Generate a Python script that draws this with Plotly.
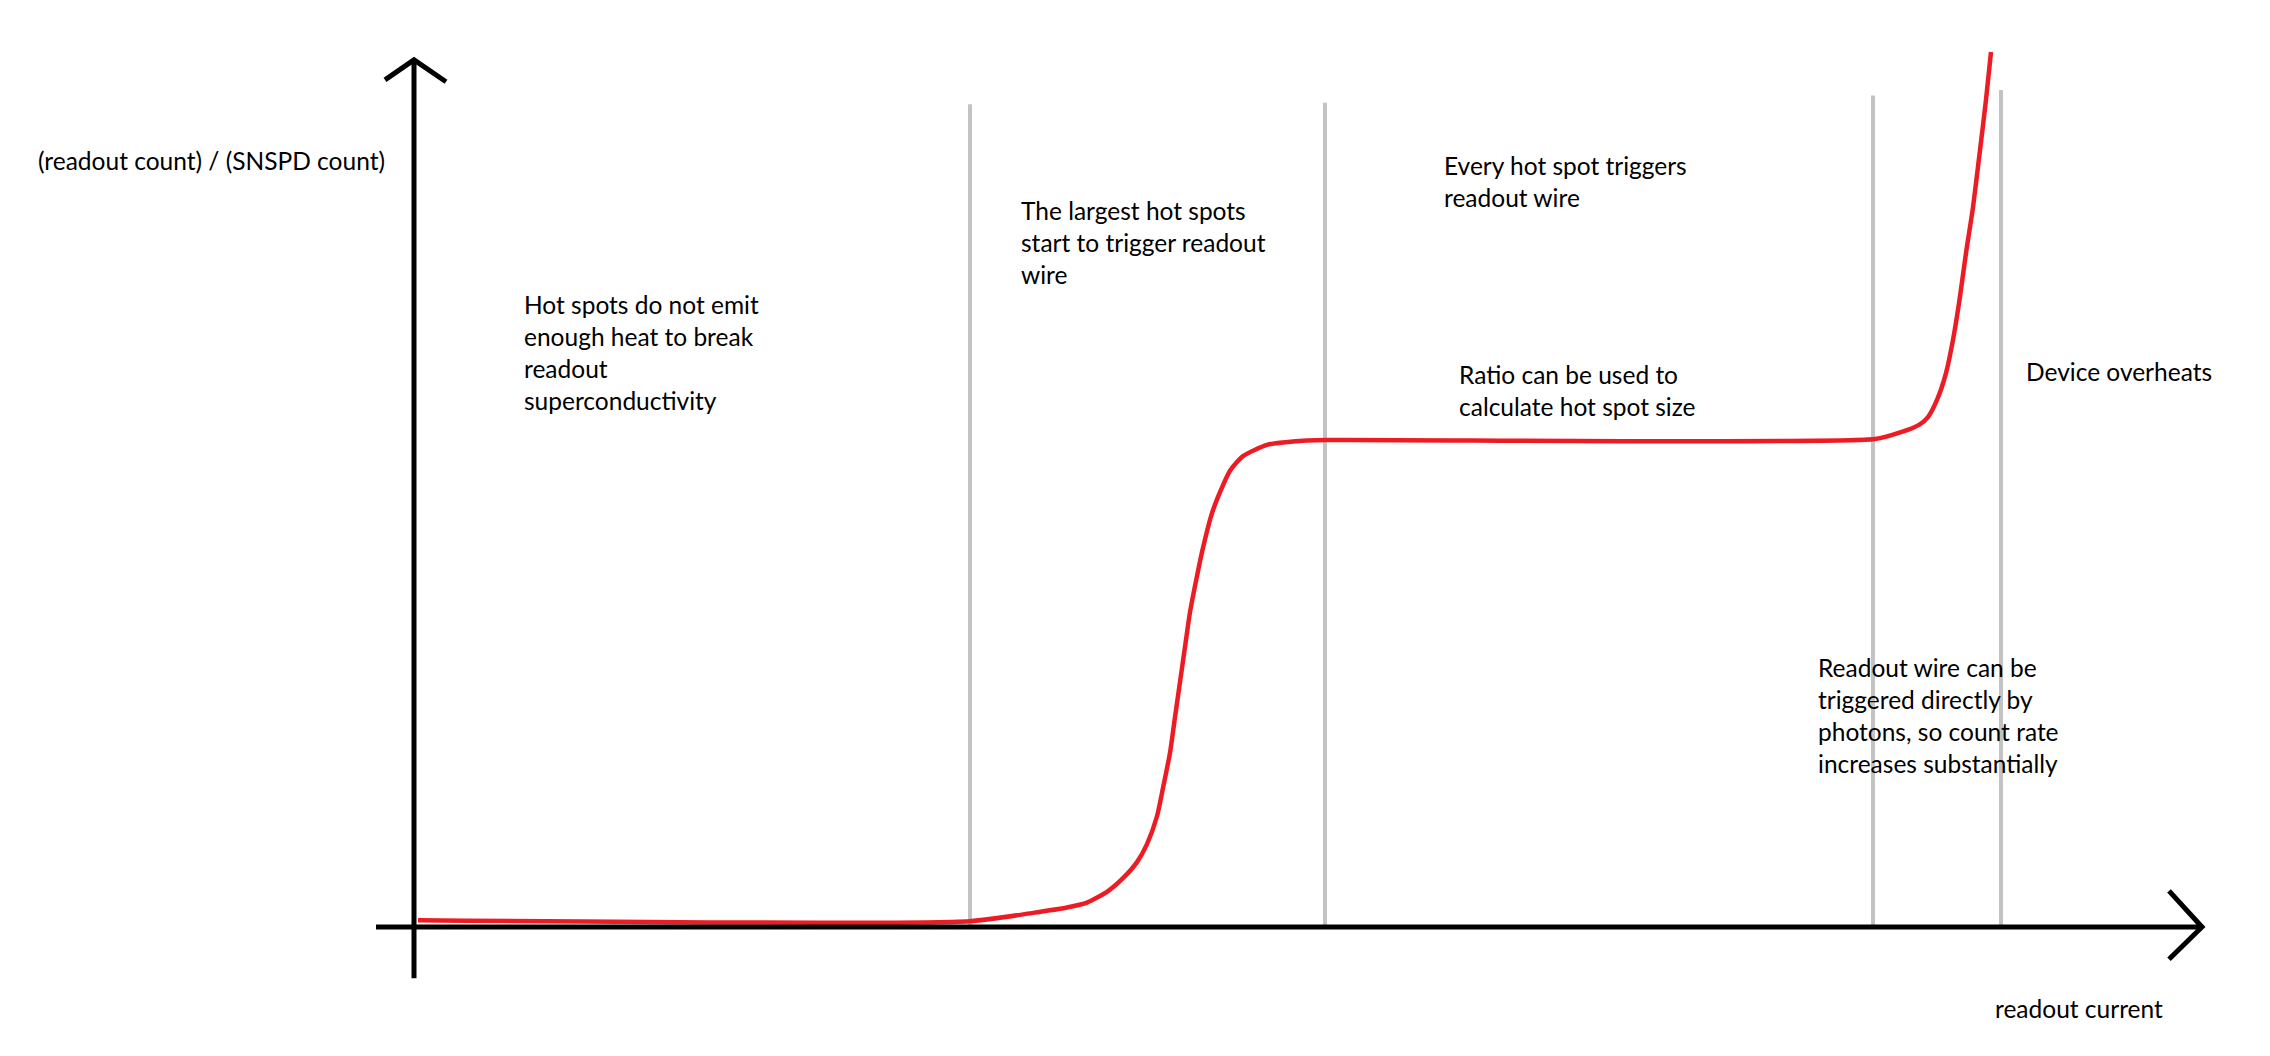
import plotly.graph_objects as go

# Readout current (arb. units, 0 at the vertical axis) and count ratio (plateau = 1)
current = [0.04, 5.56, 6.19, 6.53, 6.73, 6.93, 7.09, 7.23, 7.33, 7.43, 7.49, 7.56,
           7.61, 7.66, 7.71, 7.76, 7.83, 7.89, 7.98, 8.06, 8.16, 8.29, 8.53, 8.79,
           9.13, 14.61, 14.87, 15.05, 15.14, 15.23, 15.32, 15.39, 15.455, 15.52,
           15.59, 15.66, 15.72, 15.77]
ratio = [0.014, 0.012, 0.029, 0.040, 0.050, 0.072, 0.100, 0.133, 0.170, 0.227, 0.285,
         0.357, 0.430, 0.502, 0.574, 0.645, 0.719, 0.777, 0.848, 0.891, 0.935, 0.965,
         0.988, 0.995, 0.998, 1.000, 1.014, 1.029, 1.045, 1.080, 1.135, 1.203, 1.285,
         1.381, 1.475, 1.592, 1.695, 1.793]

# Regime boundaries (current) and top of each divider (ratio)
boundary_current = [5.56, 9.11, 14.59, 15.87]
boundary_top = [1.686, 1.689, 1.704, 1.715]

# Text labels
label_texts = [
    "(readout count) / (SNSPD count)",
    "Hot spots do not emit<br>enough heat to break<br>readout<br>superconductivity",
    "The largest hot spots<br>start to trigger readout<br>wire",
    "Every hot spot triggers<br>readout wire",
    "Ratio can be used to<br>calculate hot spot size",
    "Device overheats",
    "Readout wire can be<br>triggered directly by<br>photons, so count rate<br>increases substantially",
    "readout current",
]
label_x = [-3.78, 1.08, 6.05, 10.28, 10.43, 16.10, 14.02, 15.79]
label_y = [1.570, 1.178, 1.403, 1.528, 1.100, 1.139, 0.433, -0.166]

RED = "#ED1C24"
GRAY = "#C3C3C3"
BLACK = "#000000"
FONT = "Lato, 'Open Sans', sans-serif"

fig = go.Figure()

shapes = []
# gray regime dividers
for bx, bt in zip(boundary_current, boundary_top):
    shapes.append(dict(type="line", xref="x", yref="y", x0=bx, x1=bx, y0=0, y1=bt,
                       line=dict(color=GRAY, width=4), layer="below"))

# hand-drawn style axes with arrowheads
axis_line = dict(color=BLACK, width=5)
shapes += [
    dict(type="line", xref="x", yref="y", x0=0, x1=0, y0=-0.105, y1=1.777, line=axis_line),
    dict(type="path", xref="x", yref="y",
         path="M -0.29 1.736 L 0.0 1.777 L 0.32 1.732", line=axis_line),
    dict(type="line", xref="x", yref="y", x0=-0.38, x1=17.88, y0=0, y1=0, line=axis_line),
    dict(type="path", xref="x", yref="y",
         path="M 17.55 0.074 L 17.88 0.0 L 17.55 -0.066", line=axis_line),
]

fig.add_trace(go.Scatter(x=current, y=ratio, mode="lines",
                         line=dict(color=RED, width=4.5, shape="spline", smoothing=0.6),
                         hoverinfo="skip", showlegend=False))

annotations = []
for t, x, y in zip(label_texts, label_x, label_y):
    annotations.append(dict(text=t, x=x, y=y, xref="x", yref="y", showarrow=False,
                            xanchor="left", yanchor="middle", align="left",
                            font=dict(family=FONT, size=24.5, color=BLACK)))

fig.update_layout(
    width=2270, height=1056, autosize=False,
    margin=dict(l=0, r=0, t=0, b=0),
    paper_bgcolor="white", plot_bgcolor="white",
    xaxis=dict(visible=False, range=[-4.14, 18.56]),
    yaxis=dict(visible=False, range=[-0.2643, 1.8996]),
    shapes=shapes, annotations=annotations,
    showlegend=False,
)

fig.write_html("out.html")
